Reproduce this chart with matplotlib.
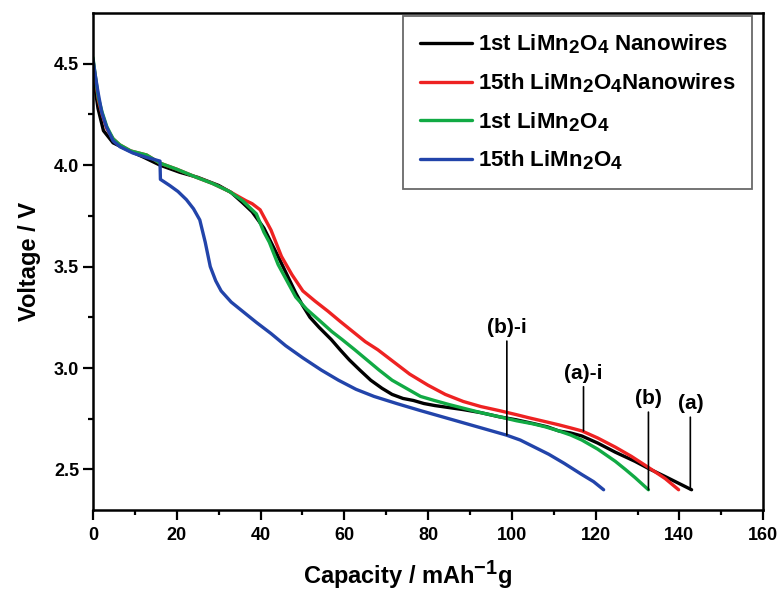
import matplotlib
matplotlib.use("Agg")
import matplotlib.pyplot as plt
import matplotlib._mathtext as _mt

_mt.SHRINK_FACTOR = 0.85

plt.rcParams['font.family'] = ['Liberation Sans', 'DejaVu Sans']
plt.rcParams['font.weight'] = 'bold'
plt.rcParams['mathtext.fontset'] = 'custom'
plt.rcParams['mathtext.default'] = 'bf'
plt.rcParams['mathtext.bf'] = 'Liberation Sans:bold'
plt.rcParams['mathtext.rm'] = 'Liberation Sans:bold'

# Data
black_x = [0, 0.5, 1.2, 2.5, 4.8, 8.8, 12, 16, 20.7, 25, 30, 33, 35.7, 38, 40.8, 42.5, 44.2, 46.3, 48.4, 50,
           51.8, 54, 56.9, 59, 61.2, 63.7, 66.3, 69, 71.4, 74, 76.5, 79, 81.6, 85, 88.4, 92.6, 96.9, 101,
           105.4, 108.5, 111.2, 114, 116.7, 120.5, 124.7, 129.4, 132.6, 136.6, 142.9]
black_y = [4.45, 4.38, 4.28, 4.17, 4.11, 4.07, 4.04, 4.00, 3.965, 3.94, 3.90, 3.865, 3.815, 3.77, 3.69, 3.62,
           3.55, 3.46, 3.37, 3.31, 3.25, 3.20, 3.14, 3.09, 3.04, 2.99, 2.94, 2.90, 2.87, 2.85, 2.84, 2.825,
           2.815, 2.805, 2.795, 2.78, 2.76, 2.745, 2.725, 2.71, 2.69, 2.68, 2.665, 2.63, 2.585, 2.54, 2.505,
           2.465, 2.40]

red_x = [0, 0.5, 1.3, 2.2, 3.3, 4.8, 6.4, 9, 12.8, 16, 20, 24.7, 28.5, 32.6, 36.5, 38, 39.9, 42.5, 45, 47.5,
         50.1, 53, 56.1, 59, 62, 65, 68, 71.8, 75.6, 80, 84.1, 88.4, 92.6, 97, 101.1, 104, 107.1, 111.2,
         114, 116.7, 120.5, 124.7, 128.5, 132.6, 136.6, 139.8]
red_y = [4.52, 4.44, 4.32, 4.25, 4.18, 4.13, 4.10, 4.07, 4.05, 4.01, 3.98, 3.94, 3.91, 3.87, 3.825, 3.81,
         3.78, 3.68, 3.55, 3.46, 3.38, 3.33, 3.28, 3.23, 3.18, 3.13, 3.09, 3.03, 2.97, 2.915, 2.87, 2.835,
         2.81, 2.79, 2.77, 2.755, 2.74, 2.72, 2.705, 2.69, 2.655, 2.61, 2.565, 2.51, 2.455, 2.40]

green_x = [0, 0.5, 1.3, 2.2, 3.3, 4.8, 6.4, 9, 12.8, 16, 20, 24.7, 28.5, 32.6, 35.7, 39, 40.8, 42.1, 44.2,
           46.3, 48.4, 51, 54.3, 57, 59.5, 62.5, 65.4, 68.3, 71.4, 74.8, 78.2, 81.5, 85, 88.8, 92.6, 97,
           101.1, 105, 108, 111.2, 114, 116.7, 120.5, 124.7, 127.1, 129.4, 132.6]
green_y = [4.53, 4.45, 4.33, 4.26, 4.19, 4.13, 4.10, 4.07, 4.05, 4.01, 3.98, 3.94, 3.91, 3.87, 3.825, 3.76,
           3.67, 3.62, 3.51, 3.43, 3.35, 3.29, 3.23, 3.18, 3.14, 3.09, 3.04, 2.99, 2.94, 2.90, 2.86, 2.84,
           2.82, 2.80, 2.78, 2.76, 2.74, 2.725, 2.71, 2.69, 2.67, 2.645, 2.60, 2.54, 2.50, 2.46, 2.40]

blue_x = [0, 0.5, 1.2, 2.1, 3.2, 4.8, 6.5, 9.5, 12.5, 16, 16.1, 18.3, 20.3, 22.3, 24, 25.5, 26.8, 28, 29.3,
          30.6, 33, 35.7, 39, 42.5, 46, 50.1, 54.5, 58.6, 62.8, 67.1, 72.5, 78.2, 83.3, 88.4, 93.5, 98.6,
          102, 105.4, 108.8, 112.5, 116.7, 119.5, 121.9]
blue_y = [4.52, 4.45, 4.36, 4.26, 4.19, 4.12, 4.09, 4.06, 4.04, 4.02, 3.93, 3.90, 3.87, 3.83, 3.785, 3.73,
          3.62, 3.50, 3.43, 3.38, 3.325, 3.28, 3.225, 3.17, 3.11, 3.05, 2.99, 2.94, 2.895, 2.86, 2.825,
          2.79, 2.76, 2.73, 2.70, 2.67, 2.645, 2.61, 2.575, 2.53, 2.475, 2.44, 2.40]

labels = [r'1st LiMn$_{2}$O$_{4}$ Nanowires',
          r'15th LiMn$_{2}$O$_{4}$Nanowires',
          r'1st LiMn$_{2}$O$_{4}$',
          r'15th LiMn$_{2}$O$_{4}$']
colors = ['#000000', '#ee2222', '#11aa44', '#2244aa']

ann_text = ['(b)-i', '(a)-i', '(b)', '(a)']
ann_x = [98.8, 117.1, 132.6, 142.6]
ann_y = [2.67, 2.69, 2.40, 2.40]
ann_ty = [3.2, 2.975, 2.85, 2.825]

fig = plt.figure(figsize=(7.78, 5.91), dpi=100)
ax = fig.add_axes([0.1195, 0.137, 0.8615, 0.841])

series = [(black_x, black_y), (red_x, red_y), (green_x, green_y), (blue_x, blue_y)]
for (xs, ys), c, lab in zip(series, colors, labels):
    ax.plot(xs, ys, color=c, lw=2.4, label=lab, solid_capstyle='round', solid_joinstyle='round')

for t, x, y, ty in zip(ann_text, ann_x, ann_y, ann_ty):
    ax.annotate(t, xy=(x, y), xytext=(x, ty), ha='center', va='center',
                fontsize=15, fontweight='bold',
                arrowprops=dict(arrowstyle='-', color='black', lw=1.2, shrinkA=1, shrinkB=0))

ax.set_xlim(0, 160)
ax.set_ylim(2.3, 4.75)
ax.set_xticks([0, 20, 40, 60, 80, 100, 120, 140, 160])
ax.set_xticks(range(10, 160, 20), minor=True)
ax.set_yticks([2.5, 3.0, 3.5, 4.0, 4.5])
ax.set_yticks([2.75, 3.25, 3.75, 4.25], minor=True)
ax.tick_params(axis='both', which='major', direction='out', length=7, width=1.6, labelsize=13)
ax.tick_params(axis='both', which='minor', direction='out', length=3.8, width=1.6)
ax.tick_params(axis='x', which='major', pad=5)
ax.tick_params(axis='y', which='major', pad=3)
ax.tick_params(top=False, right=False)
for lab in ax.get_xticklabels() + ax.get_yticklabels():
    lab.set_fontweight('bold')
for sp in ax.spines.values():
    sp.set_linewidth(1.8)

ax.set_xlabel(r'Capacity / mAh$^{-1}$g', fontsize=17, fontweight='bold')
ax.set_ylabel('Voltage / V', fontsize=17, fontweight='bold')
ax.xaxis.set_label_coords(0.47, -0.098)
ax.yaxis.set_label_coords(-0.078, 0.5)

leg = ax.legend(loc='upper right', bbox_to_anchor=(0.984, 0.994), fontsize=16,
                frameon=True, fancybox=False, edgecolor='#444444', handlelength=2.35,
                handletextpad=0.3, labelspacing=0.68, borderpad=0.75, borderaxespad=0)
leg.get_frame().set_linewidth(1.3)
for t in leg.get_texts():
    t.set_fontweight('bold')

fig.savefig('out.png', dpi=100)
